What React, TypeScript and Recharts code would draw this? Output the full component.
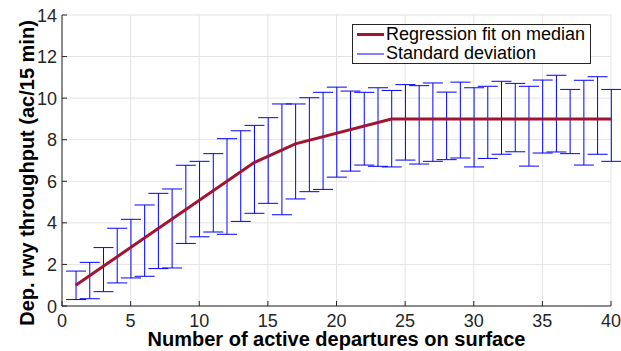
import React from "react";
import {
  ComposedChart,
  Bar,
  Line,
  XAxis,
  YAxis,
  CartesianGrid,
  Legend,
} from "recharts";

// Number of active departures on surface (x categories)
const departures = [
  1, 2, 3, 4, 5, 6, 7, 8, 9, 10, 11, 12, 13, 14, 15, 16, 17, 18, 19, 20,
  21, 22, 23, 24, 25, 26, 27, 28, 29, 30, 31, 32, 33, 34, 35, 36, 37, 38, 39, 40,
];

// Upper / lower ends of the standard deviation bars
const sdUpper = [
  1.68, 2.1, 2.81, 3.74, 4.17, 4.86, 5.42, 5.63, 6.77, 6.96, 7.33, 8.05, 8.43, 8.69,
  9.06, 9.72, 9.72, 10.02, 10.28, 10.53, 10.34, 10.28, 10.5, 10.37, 10.65, 10.6,
  10.73, 10.29, 10.77, 10.5, 10.57, 10.81, 10.71, 10.57, 10.87, 11.1, 10.42, 10.86,
  11.03, 10.42,
];
const sdLower = [
  0.31, 0.35, 0.69, 1.11, 1.35, 1.43, 1.8, 1.83, 3.01, 3.33, 3.56, 3.45, 4.07, 4.46,
  4.94, 4.39, 5.15, 5.5, 5.61, 6.2, 6.49, 6.78, 6.72, 6.69, 7.02, 6.83, 6.96, 7.04,
  7.12, 6.69, 7.1, 7.3, 7.42, 6.73, 7.36, 7.41, 7.33, 6.78, 7.3, 6.96,
];

// Piecewise regression fit on the median (breakpoints only)
const fitMedian: (number | null)[] = departures.map(() => null);
const fitBreaks = [1, 14, 17, 24, 40];
const fitValues = [1.0, 6.9, 7.8, 9.0, 9.0];
fitBreaks.forEach((b, i) => {
  fitMedian[b - 1] = fitValues[i];
});

const xTicks = [0, 5, 10, 15, 20, 25, 30, 35, 40];
const yTicks = [0, 2, 4, 6, 8, 10, 12, 14];

const FIT_COLOR = "#a2142f";
const SD_COLOR = "#0000ff";
const FONT = "'Liberation Sans', Arial, Helvetica, sans-serif";

const data = departures.map((d, i) => ({
  x: d,
  sd: [sdLower[i], sdUpper[i]],
  fit: fitMedian[i],
}));

function ErrorShape(props: any) {
  const { x, y, width, height } = props;
  if (x == null || y == null) return null;
  const cx = x + width / 2;
  const half = 10;
  return (
    <g stroke={SD_COLOR} strokeWidth={1} fill="none">
      <line x1={cx} x2={cx} y1={y} y2={y + height} />
      <line x1={cx - half} x2={cx + half} y1={y} y2={y} />
      <line x1={cx - half} x2={cx + half} y1={y + height} y2={y + height} />
    </g>
  );
}

function XTick(props: any) {
  const { x, y, payload } = props;
  const axisY = y - 4;
  return (
    <g>
      <line x1={x} x2={x} y1={axisY} y2={axisY - 5} stroke="#262626" />
      <text
        x={x}
        y={y + 17}
        textAnchor="middle"
        fill="#262626"
        fontSize={18}
        fontFamily={FONT}
      >
        {payload.value}
      </text>
    </g>
  );
}

function YTick(props: any) {
  const { x, y, payload } = props;
  const axisX = x + 4;
  return (
    <g>
      <line x1={axisX} x2={axisX + 5} y1={y} y2={y} stroke="#262626" />
      <text
        x={x - 1}
        y={y + 6.5}
        textAnchor="end"
        fill="#262626"
        fontSize={18}
        fontFamily={FONT}
      >
        {payload.value}
      </text>
    </g>
  );
}

function LegendBox() {
  return (
    <div
      style={{
        position: "absolute",
        left: 352,
        top: 24,
        width: 237,
        height: 38,
        border: "1px solid #262626",
        background: "#fff",
        fontFamily: FONT,
        fontSize: 18,
        lineHeight: "19px",
        color: "#000",
        boxSizing: "content-box",
        whiteSpace: "nowrap",
      }}
    >
      <div style={{ display: "flex", alignItems: "center", height: 19 }}>
        <span
          style={{
            display: "inline-block",
            width: 27,
            height: 3,
            background: FIT_COLOR,
            marginLeft: 4,
            marginRight: 2,
          }}
        />
        Regression fit on median
      </div>
      <div style={{ display: "flex", alignItems: "center", height: 19 }}>
        <span
          style={{
            display: "inline-block",
            width: 27,
            height: 2,
            background: "#7f7fff",
            marginLeft: 4,
            marginRight: 2,
          }}
        />
        Standard deviation
      </div>
    </div>
  );
}

export default function App() {
  return (
    <div
      style={{
        position: "absolute",
        left: 0,
        top: 0,
        width: 621,
        height: 351,
        background: "#fff",
        overflow: "hidden",
      }}
    >
      <ComposedChart
        width={621}
        height={351}
        data={data}
        margin={{ top: 15, right: 10, left: 0, bottom: 0 }}
      >
        <CartesianGrid stroke="#e3e3e3" strokeWidth={1} />
        <XAxis
          dataKey="x"
          type="number"
          domain={[0, 40]}
          ticks={xTicks}
          height={45}
          tickLine={false}
          tickSize={0}
          tickMargin={4}
          tick={<XTick />}
          axisLine={{ stroke: "#262626" }}
          label={{
            value: "Number of active departures on surface",
            content: ({ viewBox }: any) => (
              <text
                x={viewBox.x + viewBox.width / 2}
                y={viewBox.y + 40}
                textAnchor="middle"
                fontSize={20}
                fontWeight={700}
                fontFamily={FONT}
                fill="#000"
              >
                Number of active departures on surface
              </text>
            ),
          }}
        />
        <YAxis
          type="number"
          domain={[0, 14]}
          ticks={yTicks}
          width={62}
          tickLine={false}
          tickSize={0}
          tickMargin={4}
          tick={<YTick />}
          axisLine={{ stroke: "#262626" }}
          label={{
            value: "Dep. rwy throughput (ac/15 min)",
            content: () => (
              <text
                x={34}
                y={173}
                transform="rotate(-90 34 173)"
                textAnchor="middle"
                fontSize={20}
                fontWeight={700}
                fontFamily={FONT}
                fill="#000"
              >
                Dep. rwy throughput (ac/15 min)
              </text>
            ),
          }}
        />
        <Legend content={() => <LegendBox />} wrapperStyle={{ top: 0, left: 0 }} />
        <Bar
          dataKey="sd"
          barSize={20}
          shape={<ErrorShape />}
          isAnimationActive={false}
          legendType="none"
        />
        <Line
          dataKey="fit"
          stroke={FIT_COLOR}
          strokeWidth={3}
          dot={false}
          connectNulls
          isAnimationActive={false}
        />
      </ComposedChart>
    </div>
  );
}
